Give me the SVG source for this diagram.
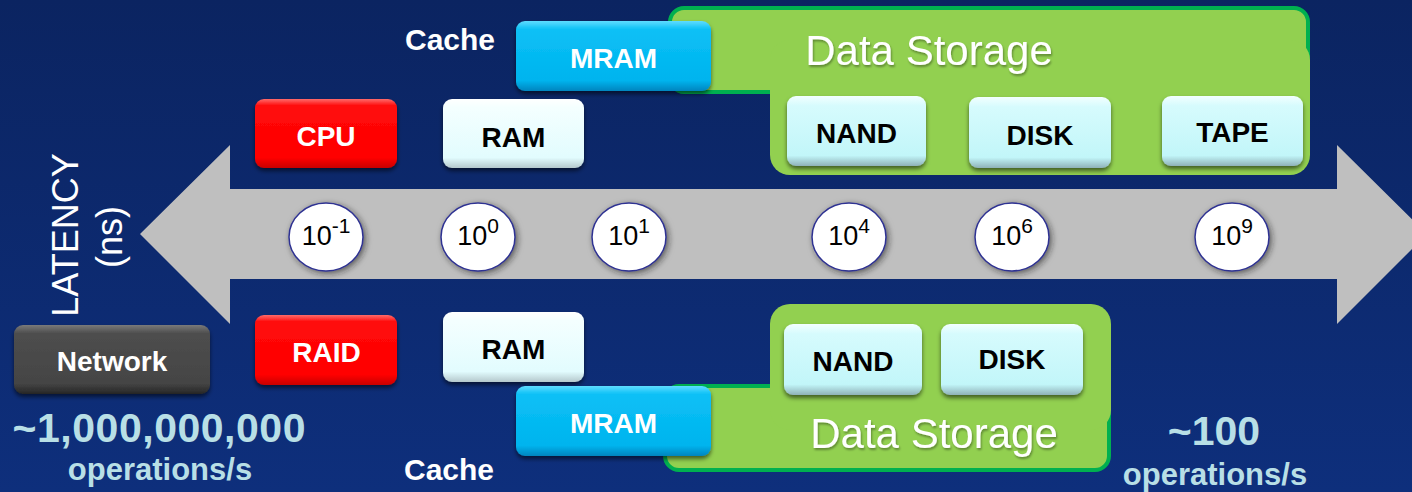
<svg xmlns="http://www.w3.org/2000/svg" width="1412" height="492" viewBox="0 0 1412 492">
  <style>
    .lbl { font-family: "Liberation Sans", Arial, sans-serif; font-weight: bold; font-size: 28px; text-anchor: middle; }
    .w { fill: #ffffff; }
    .k { fill: #000000; }
    .cache { font-family: "Liberation Sans", Arial, sans-serif; font-weight: bold; font-size: 30px; fill: #ffffff; }
    .store { font-family: "Liberation Sans", Arial, sans-serif; font-size: 42px; fill: #ffffff; text-anchor: middle; }
    .ops { font-family: "Liberation Sans", Arial, sans-serif; font-weight: bold; fill: #b8dfe6; text-anchor: middle; }
    .axis-lbl { font-family: "Liberation Sans", Arial, sans-serif; font-size: 36px; fill: #ffffff; text-anchor: middle; }
    .tick { font-family: "Liberation Sans", Arial, sans-serif; font-size: 27px; fill: #000000; text-anchor: middle; }
    .tick .sup { font-size: 21px; }
    .tickbg { fill: #ffffff; stroke: #2e3192; stroke-width: 1.5; }
    .grp { fill: #92d050; }
    .grp-edge { fill: #92d050; stroke: #00b050; stroke-width: 4; }
  </style>
  <defs>
    <linearGradient id="bg" x1="0" y1="0" x2="0" y2="1">
      <stop offset="0" stop-color="#0b2461"/>
      <stop offset="1" stop-color="#0e2f7c"/>
    </linearGradient>
    <linearGradient id="gRed" x1="0" y1="0" x2="0" y2="1">
      <stop offset="0" stop-color="#ff6a6a"/>
      <stop offset="0.1" stop-color="#ff0a0a"/>
      <stop offset="0.85" stop-color="#ff0000"/>
      <stop offset="1" stop-color="#c80000"/>
    </linearGradient>
    <linearGradient id="gWhite" x1="0" y1="0" x2="0" y2="1">
      <stop offset="0" stop-color="#ffffff"/>
      <stop offset="0.12" stop-color="#f4ffff"/>
      <stop offset="0.85" stop-color="#e2fcfe"/>
      <stop offset="1" stop-color="#b4c8cc"/>
    </linearGradient>
    <linearGradient id="gCyan" x1="0" y1="0" x2="0" y2="1">
      <stop offset="0" stop-color="#f2ffff"/>
      <stop offset="0.14" stop-color="#d6fbfd"/>
      <stop offset="0.85" stop-color="#c2f6f9"/>
      <stop offset="1" stop-color="#8fb1b8"/>
    </linearGradient>
    <linearGradient id="gBlue" x1="0" y1="0" x2="0" y2="1">
      <stop offset="0" stop-color="#5fdcff"/>
      <stop offset="0.12" stop-color="#0bc0f6"/>
      <stop offset="0.85" stop-color="#00b4ee"/>
      <stop offset="1" stop-color="#0085bf"/>
    </linearGradient>
    <linearGradient id="gGray" x1="0" y1="0" x2="0" y2="1">
      <stop offset="0" stop-color="#7a7a7a"/>
      <stop offset="0.12" stop-color="#4e4e4e"/>
      <stop offset="0.85" stop-color="#444444"/>
      <stop offset="1" stop-color="#262626"/>
    </linearGradient>
    <filter id="shadow" x="-10%" y="-15%" width="120%" height="140%">
      <feDropShadow dx="0" dy="3" stdDeviation="2" flood-color="#000000" flood-opacity="0.55"/>
    </filter>
    <filter id="halo" x="-25%" y="-25%" width="150%" height="150%">
      <feDropShadow dx="2" dy="2" stdDeviation="3" flood-color="#202020" flood-opacity="0.6"/>
    </filter>
    <filter id="txtShadow" x="-5%" y="-20%" width="110%" height="140%">
      <feDropShadow dx="1" dy="2" stdDeviation="1" flood-color="#000000" flood-opacity="0.35"/>
    </filter>
  </defs>

  <!-- backdrop -->
  <rect width="1412" height="492" fill="url(#bg)"/>

  <!-- double-headed latency axis -->
  <g id="axis">
    <polygon points="140,234 230,145 230,189 1337,189 1337,145 1427,234 1337,324 1337,279 230,279 230,324" fill="#bfbfbf"/>
  </g>

  <!-- axis caption -->
  <g id="latency-caption">
    <text class="axis-lbl" transform="translate(78,235) rotate(-90)">LATENCY</text>
    <text class="axis-lbl" transform="translate(122,237) rotate(-90)">(ns)</text>
  </g>

  <!-- tick marks on the axis -->
  <g id="ticks">
    <g id="tick-m1">
      <ellipse class="tickbg" cx="326" cy="237" rx="37" ry="34" filter="url(#halo)"/>
      <text class="tick" x="326" y="245">10<tspan class="sup" dy="-12">-1</tspan></text>
    </g>
    <g id="tick-0">
      <ellipse class="tickbg" cx="478" cy="237" rx="37" ry="34" filter="url(#halo)"/>
      <text class="tick" x="478" y="245">10<tspan class="sup" dy="-12">0</tspan></text>
    </g>
    <g id="tick-1">
      <ellipse class="tickbg" cx="629" cy="237" rx="37" ry="34" filter="url(#halo)"/>
      <text class="tick" x="629" y="245">10<tspan class="sup" dy="-12">1</tspan></text>
    </g>
    <g id="tick-4">
      <ellipse class="tickbg" cx="849" cy="237" rx="37" ry="34" filter="url(#halo)"/>
      <text class="tick" x="849" y="245">10<tspan class="sup" dy="-12">4</tspan></text>
    </g>
    <g id="tick-6">
      <ellipse class="tickbg" cx="1012" cy="237" rx="37" ry="34" filter="url(#halo)"/>
      <text class="tick" x="1012" y="245">10<tspan class="sup" dy="-12">6</tspan></text>
    </g>
    <g id="tick-9">
      <ellipse class="tickbg" cx="1232" cy="237" rx="37" ry="34" filter="url(#halo)"/>
      <text class="tick" x="1232" y="245">10<tspan class="sup" dy="-12">9</tspan></text>
    </g>
  </g>

  <!-- upper hierarchy -->
  <g id="storage-top">
    <rect class="grp-edge" x="670" y="8" width="638" height="84" rx="14"/>
    <rect class="grp" x="770" y="40" width="540" height="135" rx="20"/>
    <text class="store" x="929" y="65" filter="url(#txtShadow)">Data Storage</text>
  </g>
  <g id="cache-top">
    <text class="cache" x="405" y="50">Cache</text>
  </g>
  <g id="mram-top">
    <rect x="516" y="21" width="195" height="70" rx="9" fill="url(#gBlue)" filter="url(#shadow)"/>
    <text class="lbl w" x="613.5" y="68">MRAM</text>
  </g>
  <g id="cpu">
    <rect x="255" y="99" width="142" height="69" rx="9" fill="url(#gRed)" filter="url(#shadow)"/>
    <text class="lbl w" x="326" y="146">CPU</text>
  </g>
  <g id="ram-top">
    <rect x="443" y="99" width="141" height="69" rx="9" fill="url(#gWhite)" filter="url(#shadow)"/>
    <text class="lbl k" x="513.5" y="147">RAM</text>
  </g>
  <g id="nand-top">
    <rect x="787" y="96" width="139" height="70" rx="9" fill="url(#gCyan)" filter="url(#shadow)"/>
    <text class="lbl k" x="856.5" y="143">NAND</text>
  </g>
  <g id="disk-top">
    <rect x="969" y="97" width="142" height="71" rx="9" fill="url(#gCyan)" filter="url(#shadow)"/>
    <text class="lbl k" x="1040" y="145">DISK</text>
  </g>
  <g id="tape-top">
    <rect x="1162" y="96" width="141" height="70" rx="9" fill="url(#gCyan)" filter="url(#shadow)"/>
    <text class="lbl k" x="1232.5" y="142">TAPE</text>
  </g>

  <!-- lower hierarchy -->
  <g id="storage-bottom">
    <rect class="grp-edge" x="665" y="386" width="444" height="84" rx="14"/>
    <rect class="grp" x="770" y="304" width="341" height="126" rx="20"/>
    <text class="store" x="934" y="448" filter="url(#txtShadow)">Data Storage</text>
  </g>
  <g id="network">
    <rect x="14" y="325" width="196" height="69" rx="9" fill="url(#gGray)" filter="url(#shadow)"/>
    <text class="lbl w" x="112" y="371">Network</text>
  </g>
  <g id="raid">
    <rect x="255" y="315" width="142" height="70" rx="9" fill="url(#gRed)" filter="url(#shadow)"/>
    <text class="lbl w" x="326.5" y="362">RAID</text>
  </g>
  <g id="ram-bottom">
    <rect x="443" y="312" width="141" height="70" rx="9" fill="url(#gWhite)" filter="url(#shadow)"/>
    <text class="lbl k" x="513.5" y="359">RAM</text>
  </g>
  <g id="mram-bottom">
    <rect x="516" y="386" width="195" height="70" rx="9" fill="url(#gBlue)" filter="url(#shadow)"/>
    <text class="lbl w" x="613.5" y="433">MRAM</text>
  </g>
  <g id="nand-bottom">
    <rect x="784" y="324" width="138" height="71" rx="9" fill="url(#gCyan)" filter="url(#shadow)"/>
    <text class="lbl k" x="853" y="371">NAND</text>
  </g>
  <g id="disk-bottom">
    <rect x="941" y="324" width="142" height="71" rx="9" fill="url(#gCyan)" filter="url(#shadow)"/>
    <text class="lbl k" x="1012" y="369">DISK</text>
  </g>
  <g id="cache-bottom">
    <text class="cache" x="404" y="480">Cache</text>
  </g>

  <!-- throughput figures -->
  <g id="throughput-fast">
    <text class="ops" x="159" y="442" font-size="41" textLength="293">~1,000,000,000</text>
    <text class="ops" x="160" y="480" font-size="31">operations/s</text>
  </g>
  <g id="throughput-slow">
    <text class="ops" x="1214" y="445" font-size="41">~100</text>
    <text class="ops" x="1215" y="485" font-size="31">operations/s</text>
  </g>
</svg>
